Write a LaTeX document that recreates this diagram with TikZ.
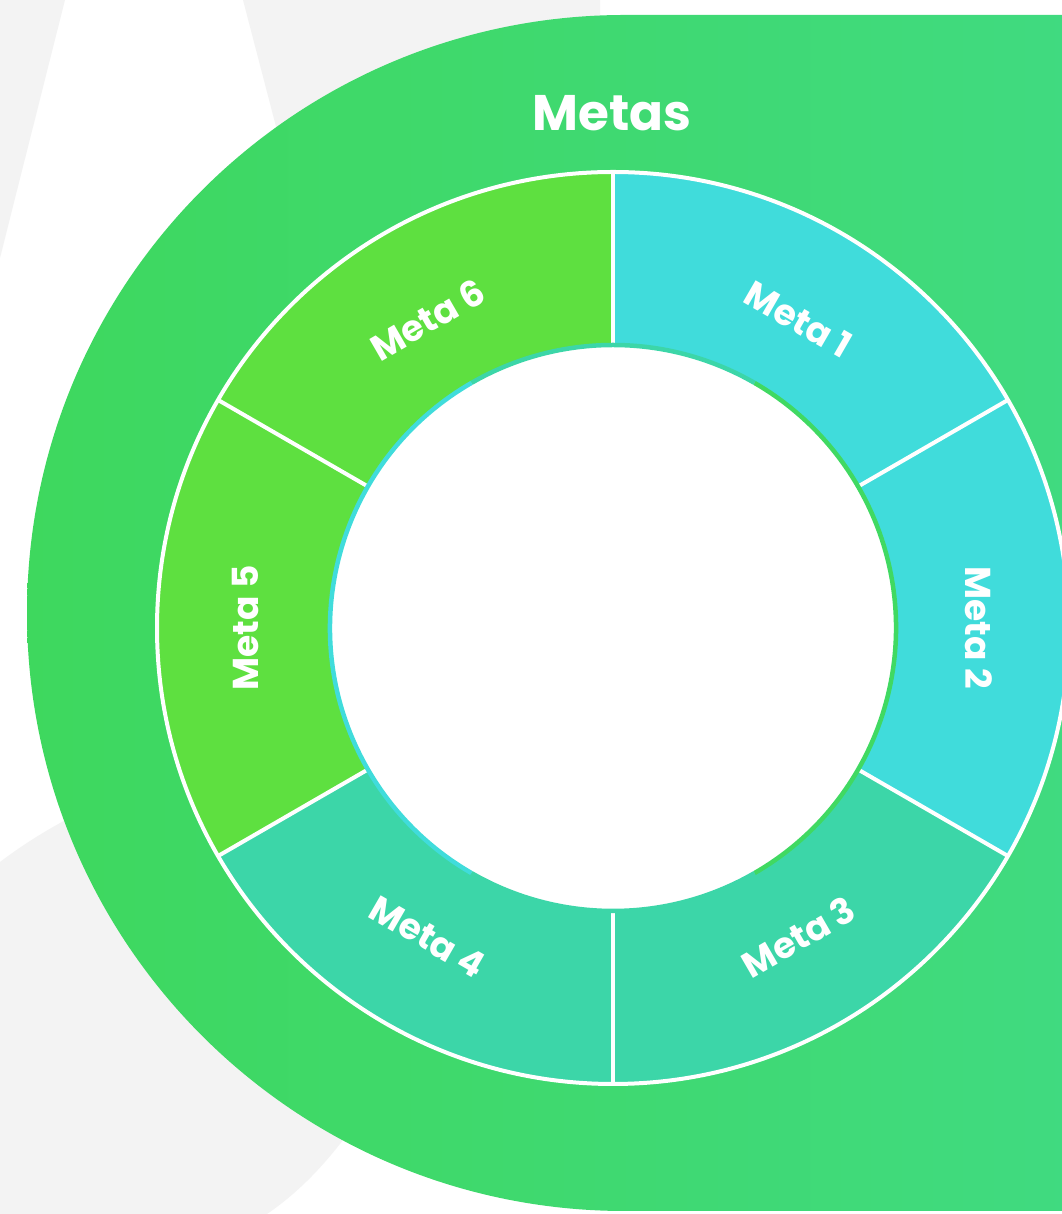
\documentclass[tikz,border=0pt]{standalone}
\usepackage{fontspec}
\setmainfont{Poppins}
\begin{document}
\begin{tikzpicture}[x=1pt,y=1pt]
\definecolor{bggray}{HTML}{F3F3F3}
\definecolor{greenL}{HTML}{3ED85E}
\definecolor{greenR}{HTML}{40DA80}
\definecolor{cyanseg}{HTML}{40DCDB}
\definecolor{tealseg}{HTML}{3CD6A8}
\definecolor{limeseg}{HTML}{5EE040}
\definecolor{rimgreen}{HTML}{40D962}
\tikzset{
  seglabel/.style={text=white, font=\fontsize{36}{36}\selectfont\bfseries, inner sep=0pt},
  divider/.style={draw=white, line width=4pt},
}
\useasboundingbox (0,0) rectangle (1061,1214);
\fill[white] (0,0) rectangle (1061,1214);
% background gray shapes
\fill[bggray] (0,1214) -- (65,1214) -- (0,956) -- cycle;
\fill[bggray] (243,1214) -- (291,1030) -- (600,1030) -- (600,1214) -- cycle;
\fill[bggray] (0,352) .. controls (25,371) and (50,386) .. (75,399) -- (200,464) -- (420,114) -- (343,74) .. controls (320,44) and (295,19) .. (267,0) -- (0,0) -- cycle;
% main green shape
\shade[left color=greenL, right color=greenR] (625,1199) arc[start angle=90,end angle=270,radius=598] -- (1070,3) -- (1070,1199) -- cycle;
% ring
\coordinate (C) at (613,586);
\foreach \a/\b/\c in {30/90/cyanseg, -30/30/cyanseg, -90/-30/tealseg, -150/-90/tealseg, 150/210/limeseg, 90/150/limeseg}{
  \fill[\c] ([shift={(\a:456)}]C) arc[start angle=\a,end angle=\b,radius=456] -- ([shift={(\b:283)}]C) arc[start angle=\b,end angle=\a,radius=283] -- cycle;
}
\draw[white, line width=4pt] (C) circle[radius=456];
\foreach \a in {90,30,-30,-90,-150,150}{
  \draw[divider] ([shift={(\a:283)}]C) -- ([shift={(\a:456)}]C);
}
% inner circle
\fill[white] (C) circle[radius=283];
\draw[rimgreen, line width=4.5pt] ([shift={(-60:283)}]C) arc[start angle=-60,end angle=60,radius=283];
\draw[tealseg, line width=4.5pt] ([shift={(60:283)}]C) arc[start angle=60,end angle=120,radius=283];
\draw[cyanseg, line width=4.5pt] ([shift={(120:283)}]C) arc[start angle=120,end angle=240,radius=283];
\draw[tealseg, line width=4.5pt] ([shift={(240:283)}]C) arc[start angle=240,end angle=300,radius=283];
% labels
\node[text=white, font=\fontsize{50}{50}\selectfont\bfseries, inner sep=0pt] (title) at (612,1101) {Metas};
\node[seglabel, rotate=-30] (m1) at ([shift={(59:360)}]C) {Meta 1};
\node[seglabel, rotate=-90] (m2) at ([shift={(0:366)}]C) {Meta 2};
\node[seglabel, rotate=30] (m3) at ([shift={(-59:360)}]C) {Meta 3};
\node[seglabel, rotate=-30] (m4) at ([shift={(-121:360)}]C) {Meta 4};
\node[seglabel, rotate=90] (m5) at ([shift={(180:368)}]C) {Meta 5};
\node[seglabel, rotate=30] (m6) at ([shift={(121:360)}]C) {Meta 6};
\end{tikzpicture}
\end{document}
